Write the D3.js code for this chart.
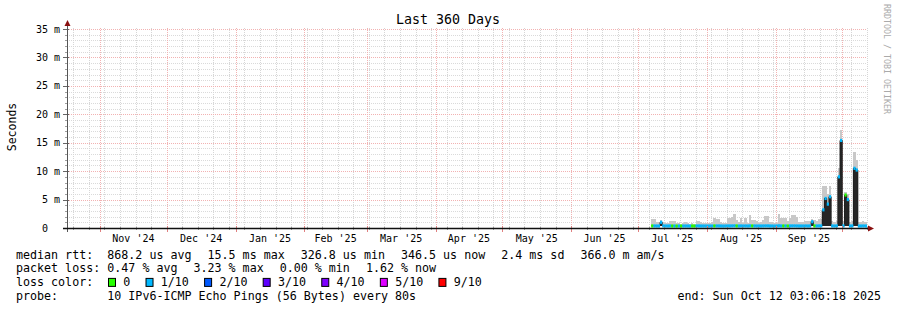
<!DOCTYPE html>
<html>
<head>
<meta charset="utf-8">
<script src="https://cdn.jsdelivr.net/npm/d3@7"></script>
<style>
  body { margin: 0; background: #fff; }
  svg text { font-family: "DejaVu Sans Mono", monospace; white-space: pre; }
</style>
</head>
<body>
<div id="chart"></div>
<script>
// smokeping style "Last 360 Days" graph

const graphStart = "2024-10-17T03:06:18Z";
const graphEnd = "2025-10-12T03:06:18Z";
const firstDay = "2025-07-07T00:00:00Z";   // first day with data

// median rtt per day, ms
const medianMs = [
  0.36, 0.36, 0.35, 0.35, 1.0, 0.37, 0.35, 0.35, 0.36, 0.35,
  0.35, 0.34, 0.35, 0.34, 0.35, 0.35, 0.35, 0.34, 0.35, 0.34,
  0.36, 0.36, 0.35, 0.35, 0.35, 0.34, 0.35, 0.35, 0.36, 0.36,
  0.36, 0.35, 0.34, 0.35, 0.36, 0.36, 0.37, 0.38, 0.36, 0.35,
  0.36, 0.35, 0.36, 0.35, 0.37, 0.36, 0.36, 0.35, 0.35, 0.35,
  0.36, 0.37, 0.37, 0.35, 0.35, 0.34, 0.35, 0.38, 0.36, 0.36,
  0.36, 0.35, 0.36, 0.37, 0.37, 0.36, 0.35, 0.35, 0.35, 0.36,
  0.35, 0.36, 1.1, 0.36, 0.36, 0.37, 0.37, 3.2, 5.2, 4.2,
  5.5, 0.36, 0.35, 0.36, 9.0, 15.4, 0.36, 5.8, 5.0, 0.35,
  0.36, 10.5, 10.2, 0.35, 0.35, 0.36, 0.35
];

// top of the smoke (slowest ping) per day, ms
const smokeTopMs = [
  1.6, 1.6, 1.1, 1.1, 1.4, 1.0, 0.8, 0.9, 1.2, 1.2,
  1.3, 0.8, 0.8, 0.7, 0.8, 1.0, 0.8, 0.7, 0.8, 0.7,
  1.2, 1.2, 1.0, 0.95, 0.9, 0.8, 0.8, 1.0, 1.7, 1.6,
  1.6, 1.1, 0.8, 0.8, 1.8, 1.8, 1.9, 2.4, 1.4, 1.0,
  1.7, 0.9, 1.8, 0.9, 2.3, 1.4, 1.4, 1.3, 0.9, 1.0,
  1.4, 2.1, 2.1, 1.0, 1.0, 0.8, 0.9, 2.4, 1.8, 1.8,
  1.7, 1.2, 1.7, 2.3, 2.3, 1.9, 1.1, 1.1, 1.0, 1.3,
  1.2, 1.3, 1.5, 1.4, 1.3, 1.6, 1.6, 7.3, 7.3, 6.0,
  7.4, 1.2, 1.0, 1.3, 10.5, 17.2, 1.2, 6.4, 6.0, 1.0,
  1.2, 13.4, 12.0, 1.0, 1.1, 1.2, 1.0
];

// loss bucket per day (index into lossColors)
const lossLevel = [
  0, 1, 1, 1, 1, 1, 1, 1, 1, 0,
  1, 0, 1, 0, 1, 1, 1, 1, 0, 0,
  1, 1, 1, 1, 1, 1, 1, 1, 0, 1,
  1, 1, 1, 1, 1, 1, 1, 1, 0, 1,
  1, 1, 1, 1, 1, 0, 1, 1, 1, 1,
  1, 1, 1, 1, 1, 1, 1, 1, 1, 0,
  1, 0, 1, 1, 1, 1, 1, 1, 1, 1,
  1, 1, 1, 0, 1, 1, 1, 1, 1, 1,
  1, 1, 1, 1, 1, 1, 1, 0, 1, 1,
  1, 1, 1, 1, 1, 1, 1
];

const smokeFloorMs = 0.3;

const yTicks = [0, 5, 10, 15, 20, 25, 30, 35];
const yTickLabels = ["0  ", "5 m", "10 m", "15 m", "20 m", "25 m", "30 m", "35 m"];
const monthLabels = ["Nov '24", "Dec '24", "Jan '25", "Feb '25", "Mar '25", "Apr '25",
                     "May '25", "Jun '25", "Jul '25", "Aug '25", "Sep '25"];

const lossLabels = ["0", "1/10", "2/10", "3/10", "4/10", "5/10", "9/10"];
const lossColors = ["#26ff00", "#00b8ff", "#0059ff", "#5e00ff", "#7e00ff", "#dd00ff", "#ff0000"];

const rttStats = ["868.2 us avg", "15.5 ms max", "326.8 us min", "346.5 us now", "2.4 ms sd", "366.0 m am/s"];
const lossStats = ["0.47 % avg", "3.23 % max", "0.00 % min", "1.62 % now"];
const probeText = "10 IPv6-ICMP Echo Pings (56 Bytes) every 80s";
const endText = "end: Sun Oct 12 03:06:18 2025";

const width = 897, height = 310;
const plot = { left: 67, right: 867, top: 28, bottom: 228 };
const charW = 7.02;   // legend font advance

const svg = d3.select('#chart')
    .append('svg')
    .attr('width', width)
    .attr('height', height)
    .style('background', '#fff');

const x = d3.scaleUtc()
    .domain([new Date(graphStart), new Date(graphEnd)])
    .range([plot.left, plot.right]);

const y = d3.scaleLinear()
    .domain([0, 35.18])
    .range([plot.bottom, plot.top]);

const px = v => Math.round(v) + 0.5;

// grid
const grid = svg.append('g').attr('stroke-dasharray', '1,1').attr('stroke-width', 1);

const minorY = d3.range(1, 36).filter(v => v % 5 !== 0);
grid.selectAll('.gy').data(minorY).enter().append('line')
    .attr('x1', plot.left).attr('x2', plot.right)
    .attr('y1', d => px(y(d))).attr('y2', d => px(y(d)))
    .attr('stroke', '#dadada');

const weeks = d3.utcSunday.range(x.domain()[0], x.domain()[1]);
grid.selectAll('.gx').data(weeks).enter().append('line')
    .attr('x1', d => px(x(d))).attr('x2', d => px(x(d)))
    .attr('y1', plot.top).attr('y2', plot.bottom)
    .attr('stroke', '#d6d6d6');

grid.selectAll('.my').data(yTicks.slice(1)).enter().append('line')
    .attr('x1', plot.left).attr('x2', plot.right)
    .attr('y1', d => px(y(d))).attr('y2', d => px(y(d)))
    .attr('stroke', '#f2b2b2');

const months = d3.utcMonth.range(x.domain()[0], x.domain()[1]);
grid.selectAll('.mx').data(months).enter().append('line')
    .attr('x1', d => px(x(d))).attr('x2', d => px(x(d)))
    .attr('y1', plot.top).attr('y2', plot.bottom)
    .attr('stroke', '#f2b2b2');

// data
const days = medianMs.map((m, i) => {
    const t0 = d3.utcDay.offset(new Date(firstDay), i);
    const t1 = i === medianMs.length - 1 ? x.domain()[1] : d3.utcDay.offset(t0, 1);
    return { t0, t1, median: m, top: smokeTopMs[i], loss: lossLevel[i] };
});

const dataG = svg.append('g');

// light smoke
dataG.selectAll('.smoke').data(days).enter().append('rect')
    .attr('x', d => x(d.t0))
    .attr('width', d => x(d.t1) - x(d.t0))
    .attr('y', d => y(d.top))
    .attr('height', d => y(smokeFloorMs) - y(d.top))
    .attr('fill', '#c8c8c8')
    .attr('shape-rendering', 'crispEdges');

// dense smoke
dataG.selectAll('.dense').data(days).enter().append('rect')
    .attr('x', d => x(d.t0))
    .attr('width', d => x(d.t1) - x(d.t0))
    .attr('y', d => y(d.median))
    .attr('height', d => Math.max(0, y(smokeFloorMs) - y(d.median)))
    .attr('fill', '#262626')
    .attr('shape-rendering', 'crispEdges');

// thin median line
const medLine = d3.line()
    .x(d => x(d.t0))
    .y(d => y(d.median))
    .curve(d3.curveStepAfter);
const lastDay = days[days.length - 1];
dataG.append('path')
    .datum(days.concat([{ t0: lastDay.t1, median: lastDay.median }]))
    .attr('d', medLine)
    .attr('fill', 'none')
    .attr('stroke', '#202020')
    .attr('stroke-width', 1);

// loss coloured median band
dataG.selectAll('.band').data(days).enter().append('rect')
    .attr('x', d => x(d.t0))
    .attr('width', d => x(d.t1) - x(d.t0))
    .attr('y', d => y(d.median) - 1.6)
    .attr('height', 3.2)
    .attr('fill', d => lossColors[d.loss]);

// axes
const axisG = svg.append('g');

axisG.selectAll('.ytm').data(minorY).enter().append('line')
    .attr('x1', plot.left - 2).attr('x2', plot.left + 1)
    .attr('y1', d => px(y(d))).attr('y2', d => px(y(d)))
    .attr('stroke', '#a0a0a0');
axisG.selectAll('.ytM').data(yTicks).enter().append('line')
    .attr('x1', plot.left - 4).attr('x2', plot.left + 2)
    .attr('y1', d => px(y(d))).attr('y2', d => px(y(d)))
    .attr('stroke', '#666');

axisG.selectAll('.xtm').data(weeks).enter().append('line')
    .attr('x1', d => px(x(d))).attr('x2', d => px(x(d)))
    .attr('y1', plot.bottom - 1).attr('y2', plot.bottom + 2)
    .attr('stroke', '#a0a0a0');
axisG.selectAll('.xtM').data(months).enter().append('line')
    .attr('x1', d => px(x(d))).attr('x2', d => px(x(d)))
    .attr('y1', plot.bottom - 2).attr('y2', plot.bottom + 4)
    .attr('stroke', '#e08080');

axisG.append('line')
    .attr('x1', px(plot.left)).attr('x2', px(plot.left))
    .attr('y1', plot.bottom + 4).attr('y2', plot.top - 5)
    .attr('stroke', '#555');
axisG.append('line')
    .attr('x1', plot.left - 4).attr('x2', plot.right + 2)
    .attr('y1', plot.bottom + 0.5).attr('y2', plot.bottom + 0.5)
    .attr('stroke', '#111')
    .attr('stroke-width', 1.6);

const ax = px(plot.left);
axisG.append('path')
    .attr('d', `M${ax - 3},${plot.top - 2} L${ax + 3},${plot.top - 2} L${ax},${plot.top - 8} Z`)
    .attr('fill', '#8a1010');
axisG.append('path')
    .attr('d', `M${plot.right + 1},${plot.bottom - 2.5} L${plot.right + 1},${plot.bottom + 3.5} L${plot.right + 7},${plot.bottom + 0.5} Z`)
    .attr('fill', '#8a1010');

// tick labels
svg.selectAll('.ylab').data(yTicks).enter().append('text')
    .attr('x', 60)
    .attr('y', d => y(d) + 3.6)
    .attr('text-anchor', 'end')
    .attr('font-size', '10px')
    .attr('fill', '#000')
    .text((d, i) => yTickLabels[i]);

const labelMonths = d3.utcMonth.range(d3.utcMonth.ceil(x.domain()[0]), x.domain()[1]).slice(0, monthLabels.length);
svg.selectAll('.xlab').data(labelMonths).enter().append('text')
    .attr('x', d => (x(d) + x(d3.utcMonth.offset(d, 1))) / 2)
    .attr('y', 242)
    .attr('text-anchor', 'middle')
    .attr('font-size', '10px')
    .attr('fill', '#000')
    .text((d, i) => monthLabels[i]);

// titles
svg.append('text')
    .attr('x', 448).attr('y', 24)
    .attr('text-anchor', 'middle')
    .attr('font-size', '13.3px')
    .text('Last 360 Days');

svg.append('text')
    .attr('transform', 'translate(15.5,127) rotate(-90)')
    .attr('text-anchor', 'middle')
    .attr('font-size', '11.5px')
    .text('Seconds');

svg.append('text')
    .attr('transform', 'translate(883.5,4) rotate(90)')
    .attr('font-size', '8.3px')
    .attr('fill', '#aaaaaa')
    .text('RRDTOOL / TOBI OETIKER');

// legend
const legendFont = '11.66px';
const rowY = [258.5, 272.2, 285.9, 299.6];
const valueX = 107.3;

function legendRow(row, label, items) {
    svg.append('text')
        .attr('x', 16).attr('y', rowY[row])
        .attr('font-size', legendFont)
        .text(label);
    let cx = valueX;
    items.forEach(t => {
        svg.append('text')
            .attr('x', cx).attr('y', rowY[row])
            .attr('font-size', legendFont)
            .text(t);
        cx += t.length * charW + 16;
    });
}

legendRow(0, 'median rtt:', rttStats);
legendRow(1, 'packet loss:', lossStats);
legendRow(2, 'loss color:', []);
legendRow(3, 'probe:', [probeText]);

let bx = 108.5;
lossLabels.forEach((lab, i) => {
    svg.append('rect')
        .attr('x', bx).attr('y', rowY[2] - 7.5)
        .attr('width', 7).attr('height', 8)
        .attr('fill', lossColors[i])
        .attr('stroke', '#000')
        .attr('stroke-width', 1);
    svg.append('text')
        .attr('x', bx + 14.8).attr('y', rowY[2])
        .attr('font-size', legendFont)
        .text(lab);
    bx += 14.8 + lab.length * charW + 15.7;
});

svg.append('text')
    .attr('x', 881).attr('y', rowY[3])
    .attr('text-anchor', 'end')
    .attr('font-size', legendFont)
    .text(endText);
</script>
</body>
</html>
